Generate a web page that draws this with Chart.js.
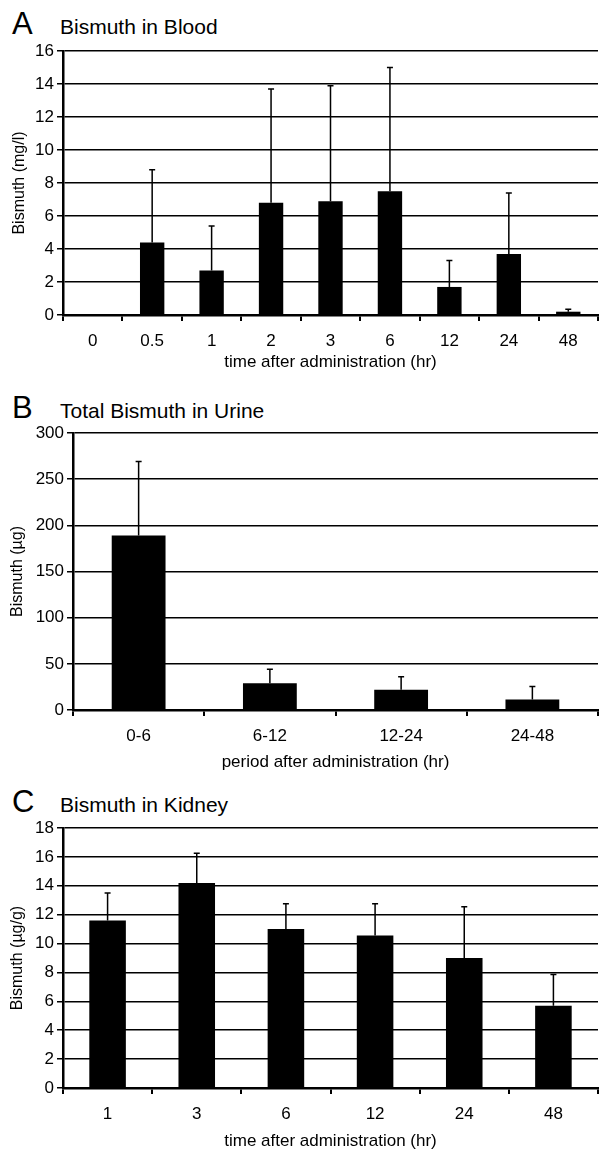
<!DOCTYPE html>
<html>
<head>
<meta charset="utf-8">
<style>
  body { margin: 0; background: #fff; }
  #page { position: relative; width: 600px; height: 1153px; overflow: hidden; font-family: "Liberation Sans", Arial, sans-serif; color: #000; }
  .panel { position: absolute; left: 0; }
  .letter { position: absolute; font-size: 31px; line-height: 31px; }
  .ptitle { position: absolute; font-size: 21px; line-height: 21px; }
</style>
</head>
<body>
<div id="page">
  <div class="letter" style="left:12px;top:8px">A</div>
  <div class="ptitle" style="left:60px;top:16px">Bismuth in Blood</div>
  <div class="panel" style="top:0px"><canvas id="bloodChart" width="600" height="380"></canvas></div>

  <div class="letter" style="left:12px;top:392px">B</div>
  <div class="ptitle" style="left:60px;top:400px">Total Bismuth in Urine</div>
  <div class="panel" style="top:390px"><canvas id="urineChart" width="600" height="390"></canvas></div>

  <div class="letter" style="left:12px;top:786px">C</div>
  <div class="ptitle" style="left:60px;top:794px">Bismuth in Kidney</div>
  <div class="panel" style="top:780px"><canvas id="kidneyChart" width="600" height="373"></canvas></div>
</div>
<script src="https://cdn.jsdelivr.net/npm/chart.js"></script>
<script>
// A: blood
const bloodLabels = ['0', '0.5', '1', '2', '3', '6', '12', '24', '48'];
const bloodMean = [0, 4.4, 2.7, 6.8, 6.9, 7.5, 1.7, 3.7, 0.2];
const bloodUpper = [0, 8.8, 5.4, 13.7, 13.9, 15.0, 3.3, 7.4, 0.35];

// B: urine
const urineLabels = ['0-6', '6-12', '12-24', '24-48'];
const urineMean = [189, 29, 22, 11.5];
const urineUpper = [269, 44, 36, 25.5];

// C: kidney
const kidneyLabels = ['1', '3', '6', '12', '24', '48'];
const kidneyMean = [11.6, 14.2, 11.0, 10.55, 9.0, 5.7];
const kidneyUpper = [13.5, 16.25, 12.75, 12.75, 12.55, 7.85];

Chart.defaults.font.family = '"Liberation Sans", Arial, sans-serif';
Chart.defaults.font.size = 17;
Chart.defaults.color = '#000';

// whiskers (upper only)
const errBars = {
    id: 'errBars',
    afterDatasetsDraw(chart, args, opts) {
        const ctx = chart.ctx;
        const y = chart.scales.y;
        const vals = chart.data.datasets[0].data;
        ctx.save();
        ctx.strokeStyle = '#000';
        ctx.lineWidth = 1.5;
        chart.getDatasetMeta(0).data.forEach((bar, i) => {
            const top = opts.upper[i];
            if (top == null || top <= vals[i]) return;
            const yt = y.getPixelForValue(top);
            ctx.beginPath();
            ctx.moveTo(bar.x, bar.y);
            ctx.lineTo(bar.x, yt);
            ctx.moveTo(bar.x - 3, yt);
            ctx.lineTo(bar.x + 3, yt);
            ctx.stroke();
        });
        ctx.restore();
    }
};

function makeChart(id, labels, values, upper, cfg) {
    return new Chart(document.getElementById(id), {
        type: 'bar',
        data: {
            labels: labels,
            datasets: [{
                data: values,
                backgroundColor: '#000',
                borderWidth: 0,
                barPercentage: 0.41,
                categoryPercentage: 1
            }]
        },
        options: {
            responsive: false,
            animation: false,
            layout: { padding: cfg.padding },
            plugins: {
                legend: { display: false },
                tooltip: { enabled: false },
                errBars: { upper: upper }
            },
            scales: {
                x: {
                    grid: { display: true, drawOnChartArea: false, drawTicks: true, tickLength: 6, color: '#000', lineWidth: 2, offset: true },
                    border: { display: true, color: '#000', width: 2.5 },
                    ticks: { padding: 10, font: { size: 17 } },
                    title: { display: true, text: cfg.xTitle, font: { size: 17 }, padding: { top: 4, bottom: cfg.xTitlePadBottom } },
                    afterFit(scale) { scale.height = cfg.xHeight; }
                },
                y: {
                    min: 0,
                    max: cfg.yMax,
                    ticks: { stepSize: cfg.yStep, padding: 3, font: { size: 17 } },
                    grid: { color: '#000', lineWidth: 1.5, tickLength: 6 },
                    border: { display: true, color: '#000', width: 2.5 },
                    title: { display: true, text: cfg.yTitle, font: { size: 16 }, padding: { top: cfg.yTitlePad, bottom: 0 } },
                    afterFit(scale) { scale.width = cfg.yWidth; }
                }
            }
        },
        plugins: [errBars]
    });
}

makeChart('bloodChart', bloodLabels, bloodMean, bloodUpper, {
    padding: { top: 51, bottom: 4, left: 0, right: 2 },
    xHeight: 61, xTitlePadBottom: 3, yWidth: 63, yTitlePad: 10,
    yMax: 16, yStep: 2,
    yTitle: 'Bismuth (mg/l)', xTitle: 'time after administration (hr)'
});

makeChart('urineChart', urineLabels, urineMean, urineUpper, {
    padding: { top: 43, bottom: 4, left: 0, right: 2 },
    xHeight: 66, xTitlePadBottom: 3, yWidth: 73, yTitlePad: 8,
    yMax: 300, yStep: 50,
    yTitle: 'Bismuth (µg)', xTitle: 'period after administration (hr)'
});

makeChart('kidneyChart', kidneyLabels, kidneyMean, kidneyUpper, {
    padding: { top: 48, bottom: 1, left: 0, right: 2 },
    xHeight: 64, xTitlePadBottom: 0, yWidth: 63, yTitlePad: 8,
    yMax: 18, yStep: 2,
    yTitle: 'Bismuth (µg/g)', xTitle: 'time after administration (hr)'
});
</script>
</body>
</html>
